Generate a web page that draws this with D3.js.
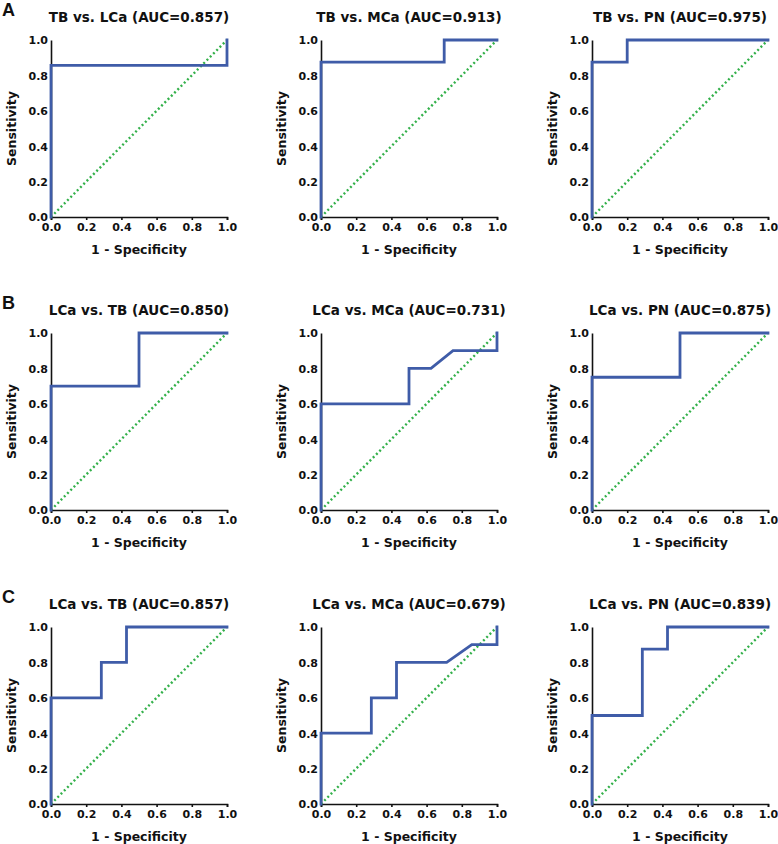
<!DOCTYPE html>
<html>
<head>
<meta charset="utf-8">
<script src="https://cdn.jsdelivr.net/npm/d3@7"></script>
<style>
html,body{margin:0;padding:0;background:#fff;}
svg{display:block;}
</style>
</head>
<body>
<svg id="chart" width="778" height="844"></svg>
<script>
// ---- data ----
const rowLabels = ["A", "B", "C"];
const titles = [
  "TB vs. LCa (AUC=0.857)", "TB vs. MCa (AUC=0.913)", "TB vs. PN (AUC=0.975)",
  "LCa vs. TB (AUC=0.850)", "LCa vs. MCa (AUC=0.731)", "LCa vs. PN (AUC=0.875)",
  "LCa vs. TB (AUC=0.857)", "LCa vs. MCa (AUC=0.679)", "LCa vs. PN (AUC=0.839)"
];
// 1 - specificity (x) and sensitivity (y) for each ROC curve
const fprA1 = [0, 0, 1, 1];
const tprA1 = [0, 0.857, 0.857, 1];
const fprA2 = [0, 0, 0.7, 0.7, 1];
const tprA2 = [0, 0.875, 0.875, 1, 1];
const fprA3 = [0, 0, 0.2, 0.2, 1];
const tprA3 = [0, 0.875, 0.875, 1, 1];
const fprB1 = [0, 0, 0.5, 0.5, 1];
const tprB1 = [0, 0.7, 0.7, 1, 1];
const fprB2 = [0, 0, 0.5, 0.5, 0.625, 0.75, 1, 1];
const tprB2 = [0, 0.6, 0.6, 0.8, 0.8, 0.9, 0.9, 1];
const fprB3 = [0, 0, 0.5, 0.5, 1];
const tprB3 = [0, 0.75, 0.75, 1, 1];
const fprC1 = [0, 0, 0.286, 0.286, 0.429, 0.429, 1];
const tprC1 = [0, 0.6, 0.6, 0.8, 0.8, 1, 1];
const fprC2 = [0, 0, 0.286, 0.286, 0.429, 0.429, 0.714, 0.857, 1, 1];
const tprC2 = [0, 0.4, 0.4, 0.6, 0.6, 0.8, 0.8, 0.9, 0.9, 1];
const fprC3 = [0, 0, 0.286, 0.286, 0.429, 0.429, 1];
const tprC3 = [0, 0.5, 0.5, 0.875, 0.875, 1, 1];
const fprs = [fprA1, fprA2, fprA3, fprB1, fprB2, fprB3, fprC1, fprC2, fprC3];
const tprs = [tprA1, tprA2, tprA3, tprB1, tprB2, tprB3, tprC1, tprC2, tprC3];
const tickValues = [0, 0.2, 0.4, 0.6, 0.8, 1.0];
const xAxisTitle = "1 - Specificity";
const yAxisTitle = "Sensitivity";

// ---- layout ----
const colLeft = [51, 321, 592];
const rowTop = [40, 333, 627];
const W = 176, H = 177;
const FONT = "Verdana, 'DejaVu Sans', sans-serif";
const BLUE = "#3f5ca8";
const GREEN = "#33b04a";

const svg = d3.select("#chart");

rowLabels.forEach((lab, r) => {
  svg.append("text")
    .attr("x", 2).attr("y", rowTop[r] - 24)
    .attr("font-family", "Arial, 'Liberation Sans', sans-serif")
    .attr("font-weight", "bold").attr("font-size", 18)
    .attr("fill", "#111")
    .text(lab);
});

for (let i = 0; i < 9; i++) {
  const r = Math.floor(i / 3), c = i % 3;
  const g = svg.append("g").attr("transform", `translate(${colLeft[c]},${rowTop[r]})`);
  const x = d3.scaleLinear().domain([0, 1]).range([0, W]);
  const y = d3.scaleLinear().domain([0, 1]).range([H, 0]);

  // title
  g.append("text")
    .attr("x", W / 2).attr("y", -18)
    .attr("text-anchor", "middle")
    .attr("font-family", FONT).attr("font-weight", "bold").attr("font-size", 13.5)
    .attr("fill", "#111")
    .text(titles[i]);

  // axes
  const xAxis = d3.axisBottom(x).tickValues(tickValues).tickFormat(d3.format(".1f")).tickSizeOuter(0).tickSize(3).tickPadding(3);
  const yAxis = d3.axisLeft(y).tickValues(tickValues).tickFormat(d3.format(".1f")).tickSizeOuter(0).tickSize(0).tickPadding(3);
  const gx = g.append("g").attr("transform", `translate(0,${H})`).call(xAxis);
  const gy = g.append("g").call(yAxis);
  [gx, gy].forEach(a => {
    a.select(".domain").attr("stroke", "#111").attr("stroke-width", 1.6);
    a.selectAll(".tick line").attr("stroke", "#111").attr("stroke-width", 1.6);
    a.selectAll(".tick text").attr("font-family", FONT).attr("font-weight", "bold")
      .attr("font-size", 11).attr("fill", "#111");
  });
  gy.selectAll(".tick text").attr("dy", "0.36em");

  // axis titles
  g.append("text")
    .attr("x", W / 2).attr("y", H + 37)
    .attr("text-anchor", "middle")
    .attr("font-family", FONT).attr("font-weight", "bold").attr("font-size", 12.5)
    .attr("fill", "#111")
    .text(xAxisTitle);
  g.append("text")
    .attr("transform", `translate(-35,${H / 2}) rotate(-90)`)
    .attr("text-anchor", "middle")
    .attr("font-family", FONT).attr("font-weight", "bold").attr("font-size", 12.5)
    .attr("fill", "#111")
    .text(yAxisTitle);

  // diagonal reference
  g.append("path")
    .datum([[0, 0], [1, 1]])
    .attr("d", d3.line().x(d => x(d[0])).y(d => y(d[1])))
    .attr("fill", "none").attr("stroke", GREEN).attr("stroke-width", 2.4)
    .attr("stroke-dasharray", "2,2.6");

  // ROC curve
  const pts = fprs[i].map((v, k) => [v, tprs[i][k]]);
  g.append("path")
    .datum(pts)
    .attr("d", d3.line().x(d => x(d[0])).y(d => y(d[1])))
    .attr("fill", "none").attr("stroke", BLUE).attr("stroke-width", 2.8)
    .attr("stroke-linejoin", "miter").attr("stroke-linecap", "square");
}
</script>
</body>
</html>
